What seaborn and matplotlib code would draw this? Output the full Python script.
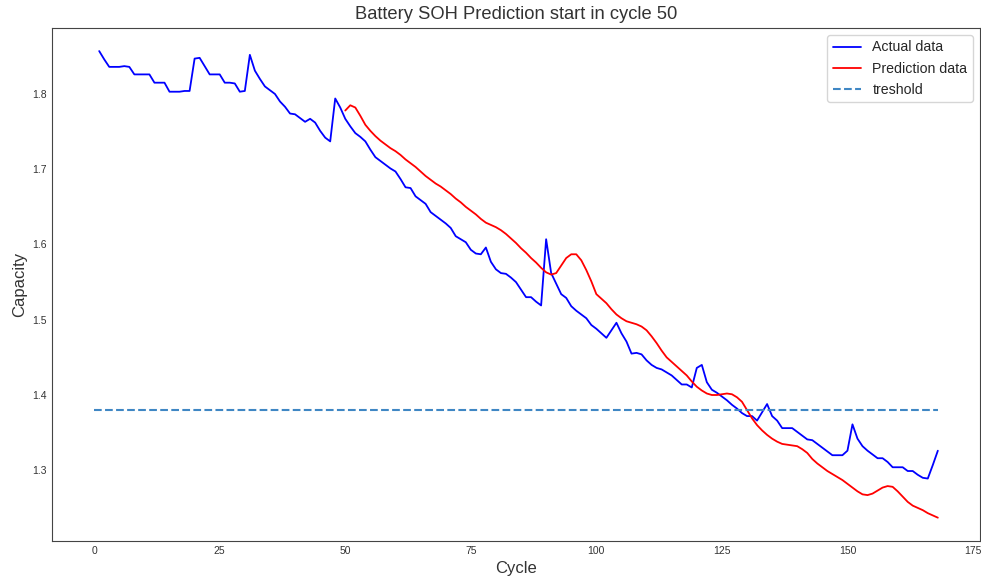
import numpy as np
import pandas as pd
import matplotlib
matplotlib.use("Agg")
import matplotlib.pyplot as plt
import seaborn as sns

# ---- data ----
actual_cycles = list(range(1, 169))
actual_capacity = [
    1.857, 1.846, 1.836, 1.836, 1.836, 1.837, 1.836, 1.826, 1.826, 1.826,
    1.826, 1.815, 1.815, 1.815, 1.803, 1.803, 1.803, 1.804, 1.804, 1.847,
    1.848, 1.837, 1.826, 1.826, 1.826, 1.815, 1.815, 1.814, 1.803, 1.804,
    1.852, 1.831, 1.820, 1.810, 1.805, 1.800, 1.790, 1.783, 1.774, 1.773,
    1.768, 1.763, 1.767, 1.762, 1.751, 1.742, 1.737, 1.794, 1.782, 1.767,
    1.757, 1.748, 1.743, 1.737, 1.726, 1.716, 1.711, 1.706, 1.701, 1.697,
    1.687, 1.676, 1.675, 1.664, 1.659, 1.654, 1.643, 1.638, 1.633, 1.628,
    1.622, 1.611, 1.607, 1.603, 1.593, 1.588, 1.587, 1.596, 1.577, 1.567,
    1.562, 1.561, 1.556, 1.550, 1.540, 1.530, 1.530, 1.524, 1.519, 1.607,
    1.562, 1.548, 1.534, 1.529, 1.518, 1.512, 1.507, 1.502, 1.493, 1.488,
    1.482, 1.476, 1.486, 1.496, 1.482, 1.471, 1.455, 1.456, 1.454, 1.446,
    1.440, 1.436, 1.434, 1.430, 1.426, 1.420, 1.414, 1.414, 1.410, 1.436,
    1.440, 1.417, 1.407, 1.403, 1.398, 1.393, 1.387, 1.382, 1.376, 1.372,
    1.372, 1.366, 1.377, 1.388, 1.372, 1.366, 1.356, 1.356, 1.356, 1.351,
    1.346, 1.341, 1.340, 1.335, 1.330, 1.325, 1.320, 1.320, 1.320, 1.326,
    1.361, 1.342, 1.332, 1.326, 1.321, 1.316, 1.316, 1.311, 1.304, 1.304,
    1.304, 1.299, 1.299, 1.294, 1.290, 1.289, 1.307, 1.326,
]

pred_cycles = list(range(50, 169))
pred_capacity = [
    1.778, 1.785, 1.782, 1.771, 1.759, 1.751, 1.744, 1.738, 1.733, 1.728,
    1.724, 1.719, 1.713, 1.708, 1.703, 1.697, 1.691, 1.686, 1.681, 1.677,
    1.672, 1.667, 1.661, 1.656, 1.650, 1.645, 1.640, 1.634, 1.629, 1.626,
    1.623, 1.619, 1.614, 1.608, 1.602, 1.595, 1.589, 1.582, 1.576, 1.569,
    1.563, 1.560, 1.562, 1.572, 1.582, 1.587, 1.587, 1.579, 1.566, 1.551,
    1.534, 1.528, 1.522, 1.514, 1.507, 1.502, 1.498, 1.496, 1.494, 1.491,
    1.486, 1.478, 1.469, 1.459, 1.450, 1.444, 1.438, 1.432, 1.426, 1.418,
    1.411, 1.406, 1.402, 1.400, 1.400, 1.401, 1.402, 1.401, 1.397, 1.391,
    1.380, 1.369, 1.360, 1.353, 1.347, 1.342, 1.338, 1.335, 1.334, 1.333,
    1.332, 1.328, 1.323, 1.315, 1.309, 1.304, 1.299, 1.295, 1.291, 1.287,
    1.282, 1.277, 1.272, 1.268, 1.267, 1.269, 1.273, 1.277, 1.279, 1.278,
    1.272, 1.265, 1.258, 1.253, 1.250, 1.247, 1.243, 1.240, 1.237,
]

threshold_value = 1.38
threshold_cycles = [0, 168]

title = "Battery SOH Prediction start in cycle 50"

# ---- plot ----
sns.set_style("white")
plt.rcParams["font.family"] = ["Liberation Sans", "DejaVu Sans"]

df_actual = pd.DataFrame({"Cycle": actual_cycles, "Capacity": actual_capacity})
df_pred = pd.DataFrame({"Cycle": pred_cycles, "Capacity": pred_capacity})
df_thr = pd.DataFrame({"Cycle": threshold_cycles,
                       "Capacity": [threshold_value] * len(threshold_cycles)})

fig, ax = plt.subplots(figsize=(9.81, 5.78), dpi=100)
fig.subplots_adjust(left=0.053, right=0.999, top=0.952, bottom=0.064)

sns.lineplot(data=df_actual, x="Cycle", y="Capacity", color="blue",
             linewidth=1.3, label="Actual data", ax=ax)
sns.lineplot(data=df_pred, x="Cycle", y="Capacity", color="red",
             linewidth=1.3, label="Prediction data", ax=ax)
sns.lineplot(data=df_thr, x="Cycle", y="Capacity", color="#3f87c4",
             linewidth=1.5, linestyle="--", label="treshold", ax=ax)

ax.set_title(title, fontsize=13.2, color="#333333")
ax.set_xlabel("Cycle", fontsize=12, color="#333333")
ax.set_ylabel("Capacity", fontsize=12, color="#333333")
ax.tick_params(axis="both", labelsize=7.5, length=0, labelcolor="#333333")
ax.set_xticks([0, 25, 50, 75, 100, 125, 150, 175])
ax.set_yticks([1.3, 1.4, 1.5, 1.6, 1.7, 1.8])
ax.set_xlim(-8.4, 176.4)
ax.set_ylim(1.206, 1.888)
for s in ax.spines.values():
    s.set_color("#444444")
ax.legend(loc="upper right", fontsize=10.2)

fig.savefig("out.png", dpi=100)
